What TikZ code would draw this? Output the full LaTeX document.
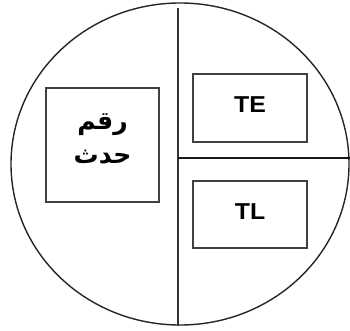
\documentclass[tikz,border=0pt]{standalone}
\usepackage{fontspec}
\setmainfont{Liberation Sans}
\newfontfamily\labelfont[FakeStretch=1.08]{Liberation Sans}
\newfontfamily\arabicfont[Script=Arabic]{DejaVu Sans}
\TeXXeTstate=1
\usetikzlibrary{shapes.geometric}
\begin{document}
\begin{tikzpicture}[x=1pt,y=1pt,
  outline/.style={draw=black!85, line width=1.4pt},
  panel/.style={draw=black!75, line width=1.5pt, inner sep=0pt},
  lbl/.style={font=\labelfont\fontsize{23}{26}\selectfont\bfseries}
]
\useasboundingbox (0,0) rectangle (350,-331);
\node[outline, ellipse, minimum width=338, minimum height=322, inner sep=0pt] (disc) at (180,-164) {};
\coordinate (vtop) at (178,-8);
\coordinate (vbot) at (178,-326);
\coordinate (hleft) at (178,-158);
\coordinate (hright) at (349.5,-158);
\draw[draw=black!80, line width=1.3pt] (vtop) -- (vbot);
\draw[draw=black!90, line width=1.1pt] (hleft) -- (hright);
\node[panel, minimum width=113, minimum height=114] (num) at (102.5,-145) {};
\node[font=\fontsize{25}{34}\selectfont\arabicfont\bfseries, align=center] (numtxt) at ([yshift=6]num.center) {\beginR رقم\endR\\\beginR حدث\endR};
\node[panel, minimum width=114, minimum height=68] (te) at (250,-108) {};
\node[lbl] (tetxt) at ([yshift=3]te.center) {TE};
\node[panel, minimum width=114, minimum height=67] (tl) at (250,-214.5) {};
\node[lbl] (tltxt) at ([yshift=3]tl.center) {TL};
\end{tikzpicture}
\end{document}
